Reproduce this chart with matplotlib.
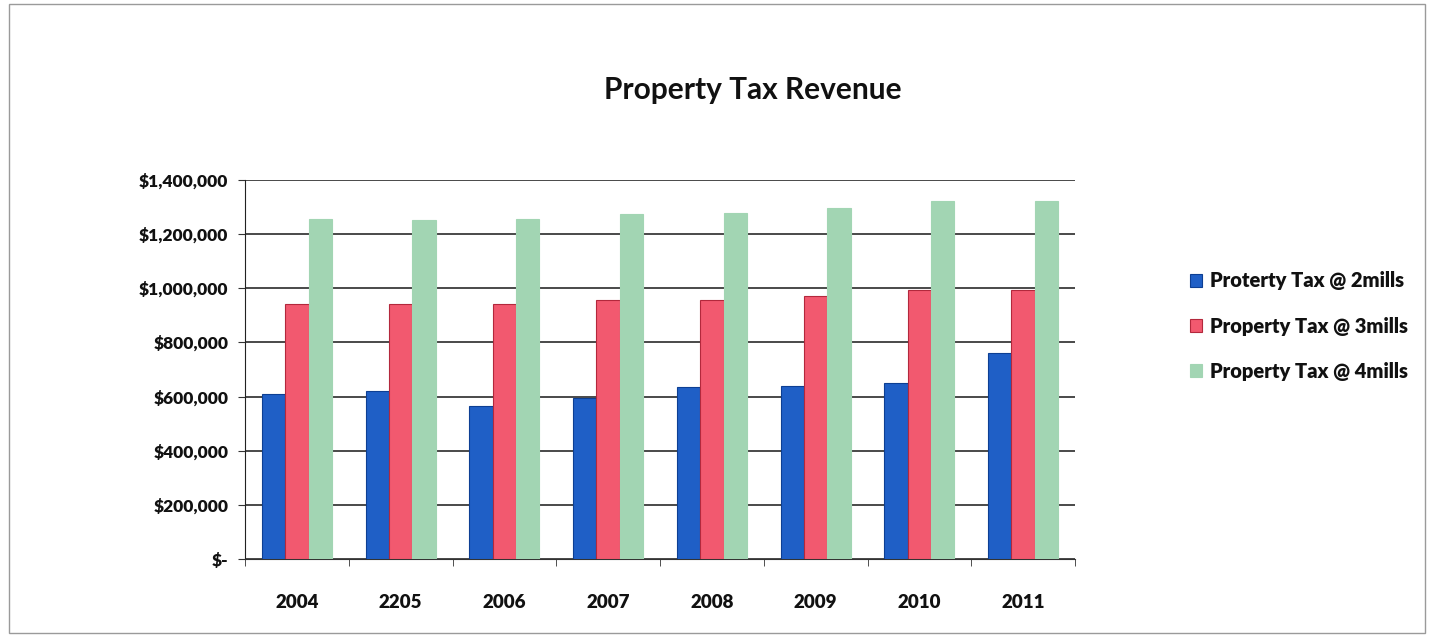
import matplotlib
matplotlib.use('Agg')
import matplotlib.pyplot as plt
import numpy as np
from matplotlib.patches import Rectangle
from matplotlib.ticker import FuncFormatter, FixedLocator

plt.rcParams['font.family'] = ['Lato', 'DejaVu Sans']

years = ['2004', '2205', '2006', '2007', '2008', '2009', '2010', '2011']
tax_2mills = [610000, 622000, 566000, 594000, 635000, 640000, 650000, 760000]
tax_3mills = [942000, 942000, 943000, 956000, 958000, 972000, 994000, 994000]
tax_4mills = [1255000, 1253000, 1255000, 1273000, 1277000, 1295000, 1322000, 1322000]
labels = ['Proterty Tax @ 2mills', 'Property Tax @ 3mills', 'Property Tax @ 4mills']

colors = ['#1f5fc6', '#f2596f', '#a2d5b3']
edges = ['#0d3f93', '#b3283c', '#a2d5b3']
WEIGHT = 'heavy'

def money(v, pos):
    if v == 0:
        return '$-'
    return '${:,.0f}'.format(v)

fig = plt.figure(figsize=(14.31, 6.38), dpi=100)
# outer chart border
fig.patches.append(Rectangle((0.006, 0.008), 0.99, 0.985, transform=fig.transFigure,
                             fill=False, edgecolor='#9a9a9a', linewidth=1.0))

ax = fig.add_axes([245 / 1431, 1 - 559 / 638, (1075 - 245) / 1431, (559 - 180) / 638])

x = np.arange(len(years))
w = 0.225
series = [tax_2mills, tax_3mills, tax_4mills]
for i, vals in enumerate(series):
    ax.bar(x + (i - 1) * w, vals, w, color=colors[i], edgecolor=edges[i],
           linewidth=0.8, label=labels[i], zorder=3)

ax.set_xlim(-0.5, len(years) - 0.5)
ax.set_ylim(0, 1400000)
ax.yaxis.set_major_locator(FixedLocator(np.arange(0, 1400001, 200000)))
ax.yaxis.set_major_formatter(FuncFormatter(money))
ax.grid(axis='y', color='#2a2a2a', linewidth=1.2, zorder=0)

ax.set_xticks(x)
ax.set_xticklabels(years)
ax.set_xticks(np.arange(-0.5, len(years)), minor=True)
ax.tick_params(axis='x', which='major', length=0, pad=25, labelsize=13.5)
ax.tick_params(axis='x', which='minor', length=5, direction='out', color='#333333')
ax.tick_params(axis='y', length=5, direction='out', color='#333333', labelsize=12.5, pad=7)
for lab in ax.get_xticklabels() + ax.get_yticklabels():
    lab.set_fontweight(WEIGHT)
    lab.set_color('#111111')

ax.spines['right'].set_visible(False)
ax.spines['top'].set_visible(False)
ax.spines['left'].set_color('#222222')
ax.spines['bottom'].set_color('#333333')

fig.text(753 / 1431, 1 - 90 / 638, 'Property Tax Revenue', ha='center', va='center',
         fontsize=21.5, fontweight='bold', color='#111111')

leg = ax.legend(loc='center left', bbox_to_anchor=(1172 / 1431, 1 - 326 / 638),
                bbox_transform=fig.transFigure, frameon=False,
                handlelength=0.6, handleheight=0.6, handletextpad=0.4, labelspacing=1.3,
                prop={'weight': WEIGHT, 'size': 14.5})
for t in leg.get_texts():
    t.set_color('#111111')

fig.savefig('out.png', dpi=100)
